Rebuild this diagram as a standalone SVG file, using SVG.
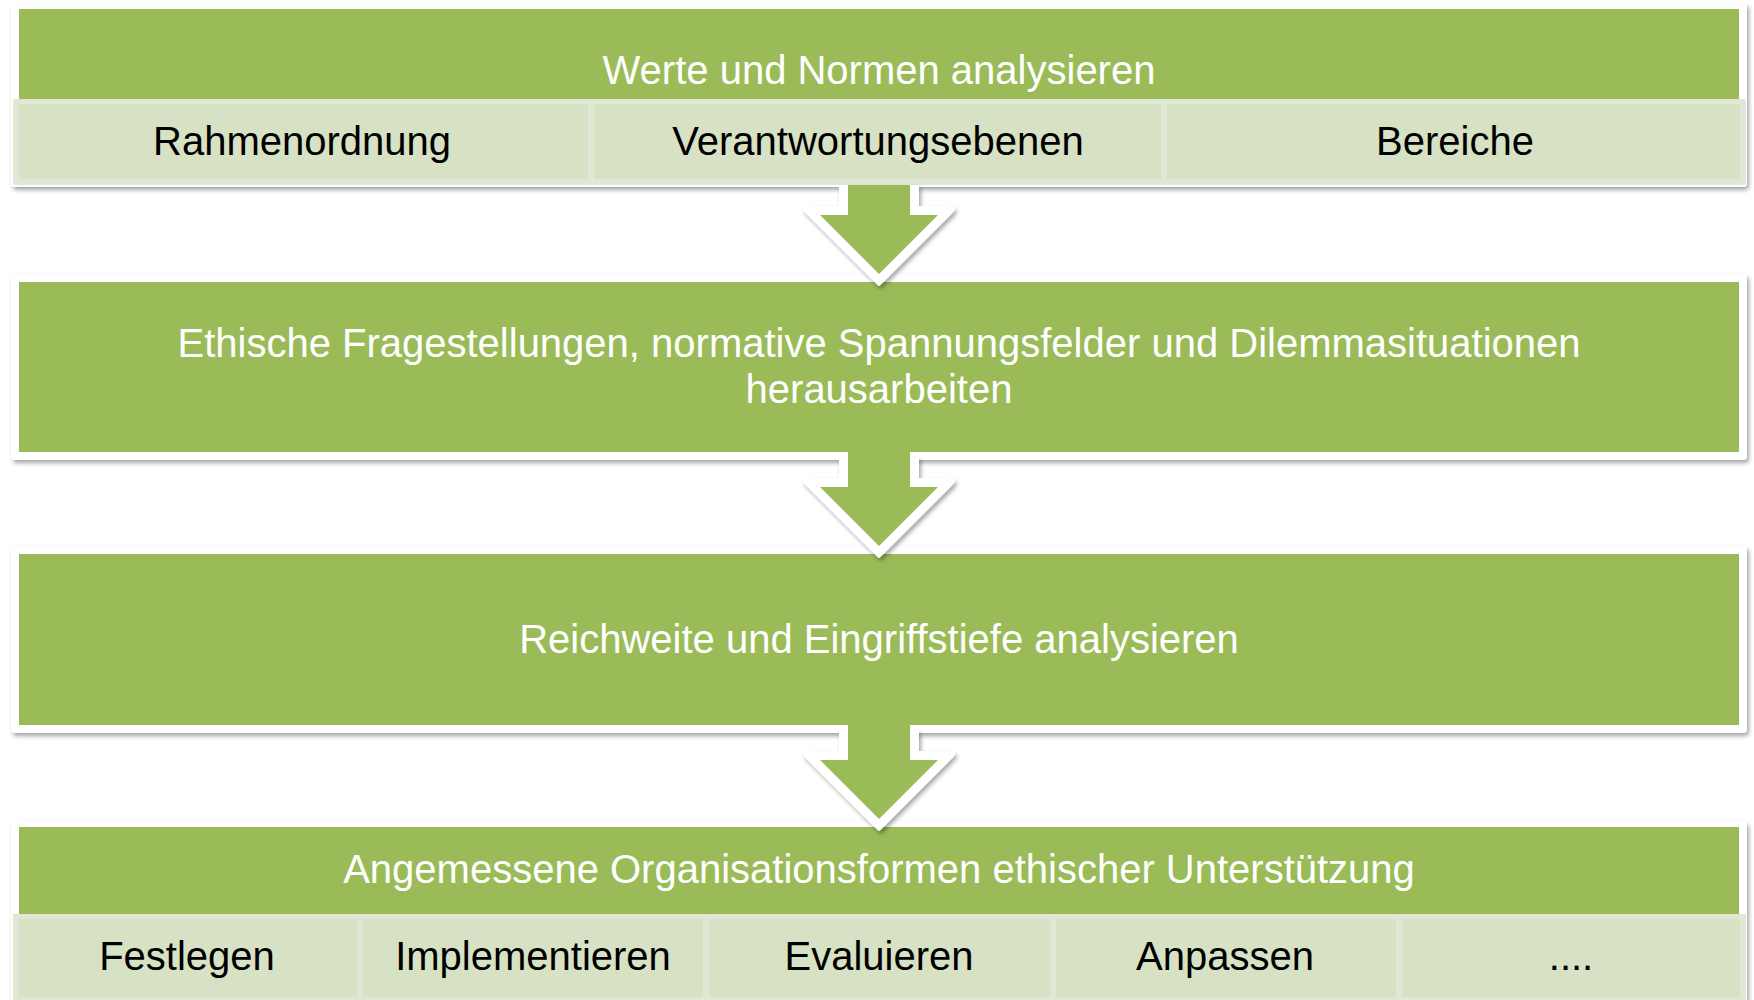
<svg xmlns="http://www.w3.org/2000/svg" width="1754" height="1000" viewBox="0 0 1754 1000">
<defs>
<filter id="sh" x="-5%" y="-10%" width="110%" height="130%">
<feDropShadow dx="2" dy="3" stdDeviation="2" flood-color="#000" flood-opacity="0.35"/>
</filter>
<style>
.frame{fill:#fff;filter:url(#sh)}
.green{fill:#9BBB59}
.rowbg{fill:#E0E7D4}
.cell{fill:#D7E1C3}
.wt{font-family:"Liberation Sans",Arial,sans-serif;font-size:40px;fill:#fff;text-anchor:middle}
.bt{font-family:"Liberation Sans",Arial,sans-serif;font-size:40px;fill:#000;text-anchor:middle}
.aout{fill:#fff;stroke:#fff;stroke-width:2;stroke-linejoin:round;filter:url(#sh)}
.ain{fill:#9BBB59}
</style>
</defs>
<rect width="1754" height="1000" fill="#fff"/>

<g id="node1">
<rect class="frame" x="11" y="3" width="1736" height="184" rx="4"/>
<rect class="green" x="19" y="9" width="1720" height="90"/>
<rect class="rowbg" x="13" y="99" width="1733" height="86" rx="2"/>
<rect class="cell" x="19" y="104" width="569" height="75"/>
<rect class="cell" x="594" y="104" width="567" height="75"/>
<rect class="cell" x="1167" y="104" width="573" height="75"/>
<text class="wt" x="879" y="84">Werte und Normen analysieren</text>
<text class="bt" x="302" y="155">Rahmenordnung</text>
<text class="bt" x="878" y="155">Verantwortungsebenen</text>
<text class="bt" x="1455" y="155">Bereiche</text>
</g>

<g id="node2">
<rect class="frame" x="11" y="274" width="1736" height="186" rx="4"/>
<rect class="green" x="19" y="282" width="1720" height="170"/>
<text class="wt" x="879" y="357">Ethische Fragestellungen, normative Spannungsfelder und Dilemmasituationen</text>
<text class="wt" x="879" y="403">herausarbeiten</text>
</g>

<g id="node3">
<rect class="frame" x="11" y="546" width="1736" height="187" rx="4"/>
<rect class="green" x="19" y="554" width="1720" height="171"/>
<text class="wt" x="879" y="653">Reichweite und Eingriffstiefe analysieren</text>
</g>

<g id="node4">
<rect class="frame" x="11" y="821" width="1736" height="190" rx="4"/>
<rect class="green" x="19" y="827" width="1720" height="87"/>
<rect class="rowbg" x="13" y="914" width="1733" height="90"/>
<rect class="cell" x="19" y="919" width="338" height="78"/>
<rect class="cell" x="363" y="919" width="340" height="78"/>
<rect class="cell" x="709" y="919" width="341" height="78"/>
<rect class="cell" x="1056" y="919" width="340" height="78"/>
<rect class="cell" x="1402" y="919" width="338" height="78"/>
<text class="wt" x="879" y="883">Angemessene Organisationsformen ethischer Unterstützung</text>
<text class="bt" x="187" y="970">Festlegen</text>
<text class="bt" x="533" y="970">Implementieren</text>
<text class="bt" x="879" y="970">Evaluieren</text>
<text class="bt" x="1225" y="970">Anpassen</text>
<text class="bt" x="1571" y="970">....</text>
</g>

<g id="connectors">
<path class="aout" d="M840,186 L840,207 L809,207 Q801,207 806,212 L879,285 L952,212 Q957,207 949,207 L918,207 L918,186 Z"/>
<path class="ain" d="M848,185 L910,185 L910,215 L938,215 L879,274 L820,215 L848,215 Z"/>
<path class="aout" d="M840,458 L840,479 L809,479 Q801,479 806,484 L879,557 L952,484 Q957,479 949,479 L918,479 L918,458 Z"/>
<path class="ain" d="M848,450 L910,450 L910,487 L938,487 L879,546 L820,487 L848,487 Z"/>
<path class="aout" d="M840,731 L840,752 L809,752 Q801,752 806,757 L879,830 L952,757 Q957,752 949,752 L918,752 L918,731 Z"/>
<path class="ain" d="M848,723 L910,723 L910,760 L938,760 L879,819 L820,760 L848,760 Z"/>
</g>
</svg>
